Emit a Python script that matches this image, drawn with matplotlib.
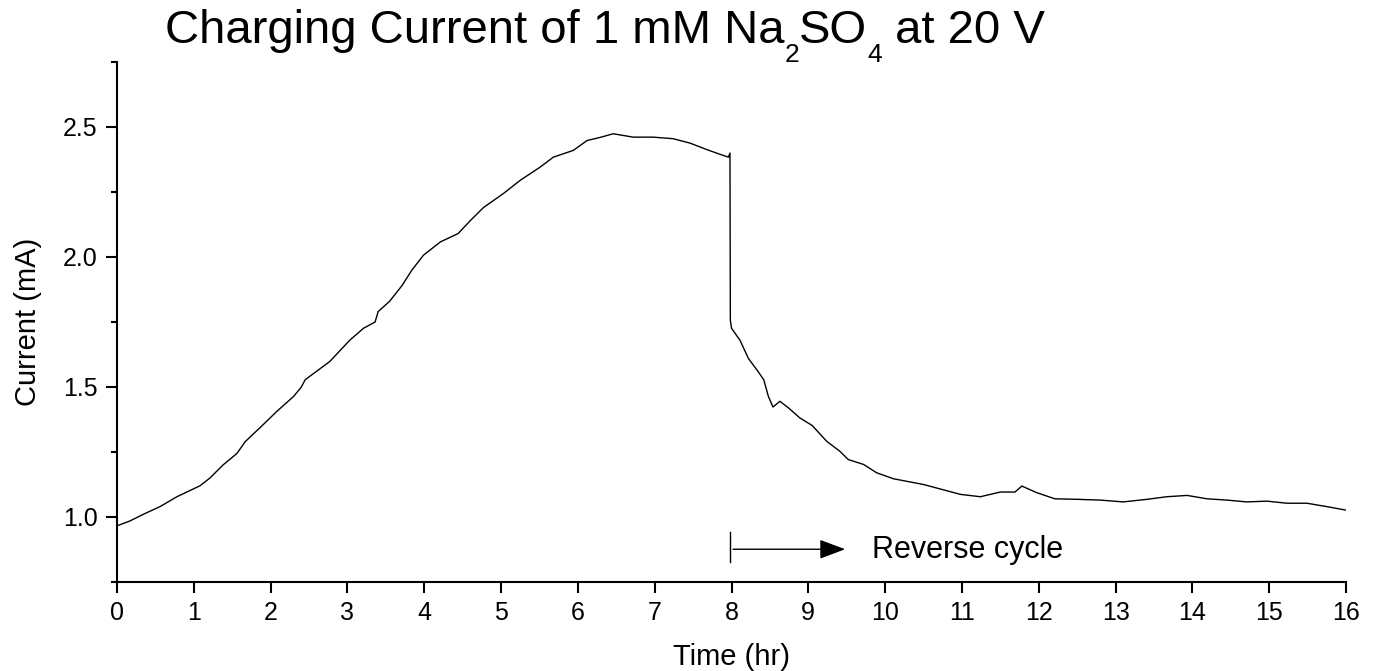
import matplotlib
matplotlib.use('Agg')
import matplotlib.pyplot as plt
from matplotlib.ticker import MultipleLocator, FormatStrFormatter

plt.rcParams['font.family'] = ['Liberation Sans', 'DejaVu Sans']

# Datos
tiempo_hr = [0.0, 0.17, 0.34, 0.56, 0.78, 1.08, 1.21, 1.38, 1.56, 1.67, 1.86,
             2.08, 2.30, 2.40, 2.45, 2.77, 3.03, 3.21, 3.36, 3.40, 3.55, 3.71,
             3.84, 3.99, 4.21, 4.44, 4.60, 4.77, 5.03, 5.25, 5.51, 5.68, 5.94,
             6.12, 6.29, 6.46, 6.72, 6.98, 7.24, 7.46, 7.68, 7.85, 7.96, 7.98,
             7.985, 8.0, 8.11, 8.22, 8.33, 8.42, 8.48, 8.54, 8.63, 8.74, 8.89,
             9.05, 9.24, 9.41, 9.52, 9.72, 9.89, 10.11, 10.5, 10.98, 11.24,
             11.50, 11.69, 11.78, 11.97, 12.21, 12.50, 12.80, 13.10, 13.41,
             13.67, 13.93, 14.19, 14.45, 14.71, 14.97, 15.23, 15.49, 15.75, 15.99]
corriente_mA = [0.966, 0.985, 1.01, 1.04, 1.078, 1.12, 1.15, 1.20, 1.244, 1.29, 1.343,
                1.406, 1.464, 1.50, 1.528, 1.598, 1.68, 1.726, 1.75, 1.79, 1.83, 1.89,
                1.95, 2.007, 2.058, 2.09, 2.14, 2.19, 2.244, 2.295, 2.346, 2.384, 2.41,
                2.448, 2.46, 2.474, 2.461, 2.461, 2.455, 2.438, 2.413, 2.395, 2.384, 2.40,
                1.757, 1.726, 1.68, 1.61, 1.566, 1.528, 1.464, 1.423, 1.445, 1.42, 1.381,
                1.352, 1.291, 1.253, 1.221, 1.202, 1.17, 1.147, 1.125, 1.087, 1.078,
                1.096, 1.096, 1.119, 1.094, 1.07, 1.068, 1.065, 1.058, 1.068,
                1.078, 1.083, 1.07, 1.065, 1.058, 1.061, 1.053, 1.053, 1.04, 1.027]

# Partes del titulo (texto, es_subindice)
partes_titulo = [('Charging Current of 1 mM Na', False), ('2', True), ('SO', False),
                 ('4', True), (' at 20 V', False)]

fig = plt.figure(figsize=(13.74, 6.71), dpi=100)
ax = fig.add_axes([117 / 1374, 1 - 582 / 671, 1229 / 1374, 520 / 671])

# Curva de corriente
ax.plot(tiempo_hr, corriente_mA, color='black', linewidth=1.0)

# Ejes
ax.set_xlim(0, 16)
ax.set_ylim(0.75, 2.75)
ax.xaxis.set_major_locator(MultipleLocator(1))
ax.yaxis.set_major_locator(MultipleLocator(0.5))
ax.yaxis.set_minor_locator(MultipleLocator(0.25))
ax.yaxis.set_major_formatter(FormatStrFormatter('%.1f'))
ax.spines['top'].set_visible(False)
ax.spines['right'].set_visible(False)
for lado in ['left', 'bottom']:
    ax.spines[lado].set_linewidth(1.5)
ax.tick_params(which='major', direction='out', length=8, width=1.5, labelsize=18, pad=6)
ax.tick_params(which='minor', direction='out', length=4.5, width=1.5)

ax.set_xlabel('Time (hr)', fontsize=21)
ax.set_ylabel('Current (mA)', fontsize=21)
ax.xaxis.set_label_coords(0.5, -0.118)
ax.yaxis.set_label_coords(-0.061, 0.5)

# Flecha de ciclo inverso
ax.plot([7.98, 7.98], [0.826, 0.941], color='black', linewidth=1.0, clip_on=False)
ax.annotate('', xy=(9.48, 0.876), xytext=(8.02, 0.876),
            arrowprops=dict(arrowstyle='-|>,head_length=1.6,head_width=0.6',
                            mutation_scale=10, color='black', lw=1.0,
                            shrinkA=0, shrinkB=0))
ax.text(9.83, 0.842, 'Reverse cycle', fontsize=22, ha='left', va='baseline')

# Titulo armado por partes para bajar los subindices
renderer = fig.canvas.get_renderer()
x_px = 165
for texto, sub in partes_titulo:
    if sub:
        t = fig.text(x_px / 1374, 1 - 62 / 671, texto, fontsize=19,
                     ha='left', va='baseline')
    else:
        t = fig.text(x_px / 1374, 1 - 43 / 671, texto, fontsize=34,
                     ha='left', va='baseline')
    caja = t.get_window_extent(renderer=renderer)
    x_px = x_px + caja.width

plt.savefig('out.png', dpi=100)
plt.close()
